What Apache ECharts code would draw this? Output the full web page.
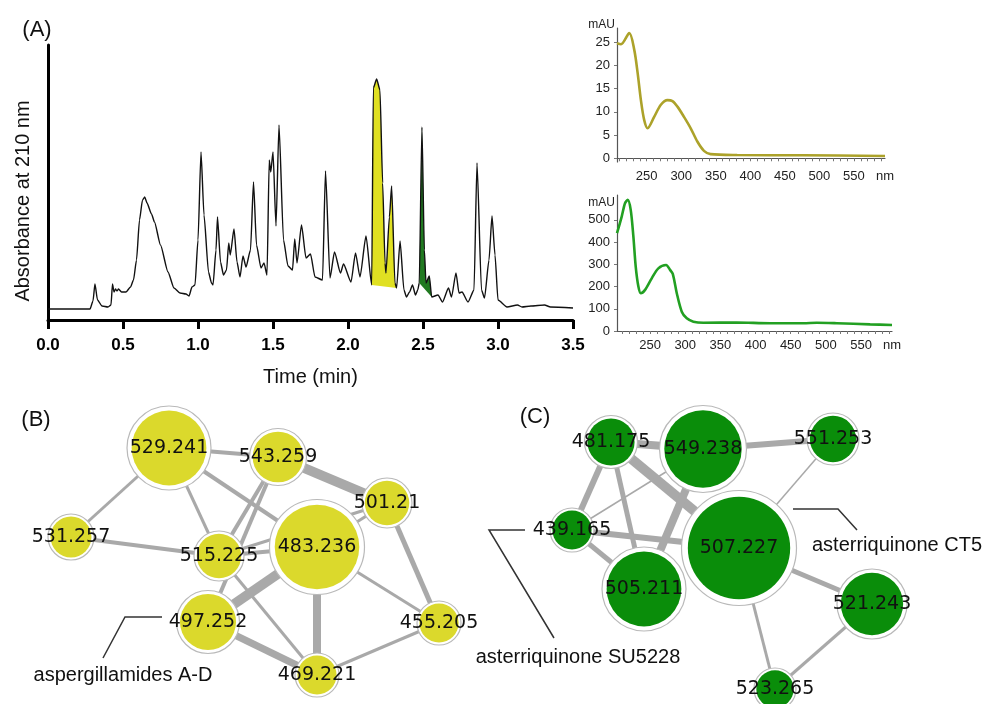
<!DOCTYPE html>
<html>
<head>
<meta charset="utf-8">
<script src="https://cdn.jsdelivr.net/npm/echarts@6/dist/echarts.min.js"></script>
<style>html,body{margin:0;padding:0;background:#fff}#chart{width:987px;height:704px}</style>
</head>
<body>
<div id="chart"></div>
<script>
// ---------- (A) chromatogram, absorbance at 210 nm (arbitrary units) ----------
const chromTime = [0.00,0.28,0.30,0.313,0.33,0.36,0.40,0.42,0.43,0.44,0.45,0.46,0.47,0.49,0.52,0.55,0.57,0.59,0.61,0.63,0.645,0.66,0.69,0.71,0.75,0.80,0.84,0.88,0.92,0.94,0.96,0.98,1.00,1.02,1.04,1.07,1.09,1.10,1.12,1.13,1.15,1.17,1.19,1.205,1.215,1.24,1.26,1.28,1.30,1.32,1.35,1.37,1.39,1.42,1.44,1.46,1.475,1.485,1.50,1.52,1.54,1.57,1.60,1.63,1.645,1.66,1.69,1.72,1.75,1.78,1.83,1.85,1.88,1.91,1.95,1.97,2.02,2.05,2.08,2.12,2.158,2.169,2.191,2.213,2.231,2.247,2.253,2.276,2.291,2.313,2.324,2.347,2.373,2.39,2.41,2.43,2.45,2.465,2.475,2.493,2.509,2.52,2.542,2.558,2.60,2.63,2.67,2.69,2.72,2.74,2.76,2.80,2.84,2.86,2.89,2.91,2.94,2.96,2.98,3.00,3.06,3.13,3.16,3.22,3.31,3.35,3.50];
const chromAbs = [11,11,19,36,20,14,13,15,36,28,31,29,31,28,28,33,40,60,100,120,123,117,106,98,75,48,32,27,26,24,33,35,80,168,105,48,37,35,70,103,58,45,50,77,65,91,58,43,64,53,70,138,75,52,57,45,160,148,168,94,195,80,54,50,81,57,95,62,66,43,40,149,42,68,47,56,38,67,43,84,35,232,241,230,137,57,47,103,134,37,32,79,30,23,28,35,25,30,37,193,70,37,44,23,25,18,32,23,47,27,28,18,30,157,30,22,60,104,65,20,13,15,13,14,15,13,12];
// highlighted peak windows (min)
const yellowPeak = [2.158, 2.324];
const greenPeak = [2.475, 2.558];

// ---------- UV spectra ----------
const uvTopNm  = [207,212.8,224.8,232,236.9,241.6,246.4,251.3,260.8,270.5,280.1,287.3,294.5,304,313.7,323.3,332.9,342.5,381,476,595];
const uvTopMAU = [24.7,24.5,26.9,23.3,18.3,12.5,8.2,6.45,8.9,11.5,12.5,12.3,11.1,8.9,6.45,3.6,1.6,0.9,0.7,0.65,0.5];
const uvBotNm  = [203,209.7,214.4,218.3,222.5,226.3,229.6,233.4,236.8,242.9,252.4,261.8,272.8,278.4,282.3,288,295.1,302.2,311.6,325.8,373.3,420.7,468,487,515.6,562.9,594];
const uvBotMAU = [440,515,575,590,545,425,290,200,170,185,237,282,297,275,257,170,87,57,42,37,38,35,35,37,35,30,27];
const uvTopLabels = [0,5,10,15,20,25];
const uvBotLabels = [0,100,200,300,400,500];
const nmLabels = [250,300,350,400,450,500,550];

// ---------- (B) molecular network ----------
const nodesB = ['529.241','543.259','501.21','531.257','515.225','483.236','497.252','455.205','469.221'];
const linksB = [['529.241','543.259',4],['529.241','531.257',3],['529.241','515.225',3],['529.241','483.236',4],['543.259','501.21',10],['543.259','515.225',4],['543.259','497.252',4],['501.21','483.236',3],['501.21','455.205',5],['531.257','515.225',4],['515.225','483.236',4],['515.225','501.21',3],['483.236','497.252',10],['483.236','469.221',8],['483.236','455.205',3],['515.225','469.221',3],['497.252','469.221',7],['469.221','455.205',3]];
// ---------- (C) molecular network ----------
const nodesC = ['481.175','549.238','551.253','439.165','507.227','505.211','521.243','523.265'];
const linksC = [['481.175','549.238',8],['549.238','551.253',6],['551.253','507.227',1.5],['481.175','507.227',10],['481.175','439.165',6],['481.175','505.211',5],['439.165','549.238',1.5],['439.165','507.227',6],['439.165','505.211',5],['549.238','505.211',8],['507.227','521.243',5],['507.227','523.265',3],['521.243','523.265',3]];

// layout (panel units) and node sizes, kept apart from the values
const layoutB = {'529.241':[169,58,84],'543.259':[278,67,57],'501.21':[387,113,50],'531.257':[71,147,46],'515.225':[219,166,50],'483.236':[317,157,95],'497.252':[208,232,63],'455.205':[439,233,44],'469.221':[317,285,44]};
const layoutC = {'481.175':[141,52,53],'549.238':[233,59,87],'551.253':[363,49,52],'439.165':[102,140,44],'507.227':[269,158,115],'505.211':[174,199,84],'521.243':[402,214,70],'523.265':[305,299,42]};

const SANS = 'Liberation Sans, Arial, Helvetica, sans-serif';
const YEL = '#dbd92c', GRN = '#0a8d0a', EDGE = '#a9a9a9';

const chromData = chromTime.map((t, i) => [t, chromAbs[i]]);
function fillRender(color) {
  return function (params, api) {
    const t0 = api.value(0), t1 = api.value(1);
    const pts = chromData.filter(p => p[0] >= t0 - 1e-9 && p[0] <= t1 + 1e-9).map(p => api.coord(p));
    return { type: 'polygon', shape: { points: pts }, style: { fill: color } };
  };
}
function graphSeries(nodes, links, layout, axis) {
  return {
    type: 'graph', coordinateSystem: 'cartesian2d', xAxisIndex: axis, yAxisIndex: axis,
    layout: 'none', z: 2, silent: true, animation: false,
    data: nodes.map(n => ({ name: n, value: [layout[n][0], layout[n][1]], symbolSize: layout[n][2] })),
    links: links.map(l => ({ source: l[0], target: l[1], lineStyle: { width: l[2] } })),
    itemStyle: { color: '#ffffff', borderColor: '#b9b9b9', borderWidth: 1.2 },
    lineStyle: { color: EDGE, opacity: 1, curveness: 0 },
    label: { show: false }
  };
}
function nodeSeries(nodes, layout, axis, color) {
  return {
    type: 'scatter', xAxisIndex: axis, yAxisIndex: axis, z: 3, silent: true, animation: false,
    data: nodes.map(n => ({ name: n, value: [layout[n][0], layout[n][1]], symbolSize: layout[n][2] * 0.89 })),
    itemStyle: { color: color, opacity: 1 },
    label: { show: true, position: 'inside', formatter: '{b}', color: '#111', fontSize: 19, fontFamily: 'DejaVu Sans' }
  };
}
const uvAxisLine = { show: true, lineStyle: { color: '#555', width: 1.2 } };
const nmTicks = [];
for (let v = 210; v <= 590; v += 10) nmTicks.push(v);

const option = {
  backgroundColor: '#fff',
  animation: false,
  grid: [
    { left: 48, top: 45, width: 525, height: 275 },
    { left: 617, top: 28, width: 268, height: 134 },
    { left: 617, top: 195, width: 275, height: 136 },
    { left: 0, top: 390, width: 490, height: 314 },
    { left: 470, top: 390, width: 517, height: 314 }
  ],
  xAxis: [
    { type: 'value', gridIndex: 0, min: 0, max: 3.5, interval: 0.5,
      axisLine: { show: true, onZero: false, lineStyle: { color: '#000', width: 3 } },
      axisTick: { show: true, length: 9, lineStyle: { color: '#000', width: 3 } },
      axisLabel: { fontFamily: SANS, fontWeight: 'bold', fontSize: 17, color: '#000', margin: 17, formatter: v => v.toFixed(1) },
      splitLine: { show: false },
      name: 'Time (min)', nameLocation: 'middle', nameGap: 47,
      nameTextStyle: { fontFamily: SANS, fontSize: 20, color: '#111' } },
    { type: 'value', gridIndex: 1, min: 207, max: 595,
      axisLine: uvAxisLine,
      axisTick: { show: true, customValues: nmTicks, length: 3, lineStyle: { color: '#777' } },
      axisLabel: { customValues: nmLabels.concat([595]), fontFamily: SANS, fontSize: 13, color: '#222', margin: 8, formatter: v => v >= 590 ? 'nm' : String(v) },
      splitLine: { show: false } },
    { type: 'value', gridIndex: 2, min: 203, max: 594,
      axisLine: uvAxisLine,
      axisTick: { show: true, customValues: nmTicks, length: 3, lineStyle: { color: '#777' } },
      axisLabel: { customValues: nmLabels.concat([594]), fontFamily: SANS, fontSize: 13, color: '#222', margin: 8, formatter: v => v >= 590 ? 'nm' : String(v) },
      splitLine: { show: false } },
    { type: 'value', gridIndex: 3, min: 0, max: 490, show: false },
    { type: 'value', gridIndex: 4, min: 0, max: 517, show: false }
  ],
  yAxis: [
    { type: 'value', gridIndex: 0, min: 0, max: 275,
      axisLine: { show: true, onZero: false, lineStyle: { color: '#000', width: 3 } },
      axisTick: { show: false }, axisLabel: { show: false }, splitLine: { show: false } },
    { type: 'value', gridIndex: 1, min: -0.8, max: 28,
      axisLine: uvAxisLine,
      axisTick: { show: true, customValues: uvTopLabels, length: 3, lineStyle: { color: '#777' } },
      axisLabel: { customValues: uvTopLabels, fontFamily: SANS, fontSize: 13, color: '#222', margin: 7 },
      splitLine: { show: false },
      name: 'mAU', nameLocation: 'end', nameGap: 3,
      nameTextStyle: { fontFamily: SANS, fontSize: 12, color: '#222', align: 'right', verticalAlign: 'middle', padding: [0, 2, 0, 0] } },
    { type: 'value', gridIndex: 2, min: 0, max: 612,
      axisLine: uvAxisLine,
      axisTick: { show: true, customValues: uvBotLabels, length: 3, lineStyle: { color: '#777' } },
      axisLabel: { customValues: uvBotLabels, fontFamily: SANS, fontSize: 13, color: '#222', margin: 7 },
      splitLine: { show: false },
      name: 'mAU', nameLocation: 'end', nameGap: -8,
      nameTextStyle: { fontFamily: SANS, fontSize: 12, color: '#222', align: 'right', verticalAlign: 'middle', padding: [0, 2, 0, 0] } },
    { type: 'value', gridIndex: 3, min: 0, max: 314, inverse: true, show: false },
    { type: 'value', gridIndex: 4, min: 0, max: 314, inverse: true, show: false }
  ],
  series: [
    { type: 'custom', xAxisIndex: 0, yAxisIndex: 0, z: 1, silent: true, data: [yellowPeak], renderItem: fillRender('#e0e022') },
    { type: 'custom', xAxisIndex: 0, yAxisIndex: 0, z: 1, silent: true, data: [greenPeak], renderItem: fillRender('#217a21') },
    { type: 'line', xAxisIndex: 0, yAxisIndex: 0, z: 3, data: chromData, showSymbol: false, symbol: 'none',
      smooth: 0.2, smoothMonotone: 'x',
      lineStyle: { color: '#111', width: 1.4 }, silent: true },
    { type: 'line', xAxisIndex: 1, yAxisIndex: 1, data: uvTopNm.map((x, i) => [x, uvTopMAU[i]]), smooth: 0.3,
      symbol: 'none', lineStyle: { color: '#aca22a', width: 2.6 }, silent: true },
    { type: 'line', xAxisIndex: 2, yAxisIndex: 2, data: uvBotNm.map((x, i) => [x, uvBotMAU[i]]), smooth: 0.3,
      symbol: 'none', lineStyle: { color: '#22a022', width: 2.6 }, silent: true },
    graphSeries(nodesB, linksB, layoutB, 3),
    nodeSeries(nodesB, layoutB, 3, YEL),
    graphSeries(nodesC, linksC, layoutC, 4),
    nodeSeries(nodesC, layoutC, 4, GRN)
  ],
  graphic: [
    { type: 'text', x: 37, y: 30, style: { text: '(A)', fontFamily: SANS, fontSize: 22, fill: '#111', align: 'center', verticalAlign: 'middle' } },
    { type: 'text', x: 36, y: 420, style: { text: '(B)', fontFamily: SANS, fontSize: 22, fill: '#111', align: 'center', verticalAlign: 'middle' } },
    { type: 'text', x: 535, y: 417, style: { text: '(C)', fontFamily: SANS, fontSize: 22, fill: '#111', align: 'center', verticalAlign: 'middle' } },
    { type: 'text', x: 23, y: 201, rotation: Math.PI / 2, style: { text: 'Absorbance at 210 nm', fontFamily: SANS, fontSize: 20, fill: '#111', align: 'center', verticalAlign: 'middle' } },
    { type: 'polyline', shape: { points: [[162, 617], [125, 617], [103, 658]] }, style: { stroke: '#333', lineWidth: 1.5, fill: null } },
    { type: 'polyline', shape: { points: [[793, 509], [838, 509], [857, 530]] }, style: { stroke: '#333', lineWidth: 1.5, fill: null } },
    { type: 'polyline', shape: { points: [[525, 530], [489, 530], [554, 638]] }, style: { stroke: '#333', lineWidth: 1.5, fill: null } },
    { type: 'text', x: 123, y: 675, style: { text: 'aspergillamides A-D', fontFamily: SANS, fontSize: 20, fill: '#111', align: 'center', verticalAlign: 'middle' } },
    { type: 'text', x: 897, y: 545, style: { text: 'asterriquinone CT5', fontFamily: SANS, fontSize: 20, fill: '#111', align: 'center', verticalAlign: 'middle' } },
    { type: 'text', x: 578, y: 657, style: { text: 'asterriquinone SU5228', fontFamily: SANS, fontSize: 20, fill: '#111', align: 'center', verticalAlign: 'middle' } }
  ]
};
const chart = echarts.init(document.getElementById('chart'), null, { renderer: 'canvas' });
chart.setOption(option);
</script>
</body>
</html>
